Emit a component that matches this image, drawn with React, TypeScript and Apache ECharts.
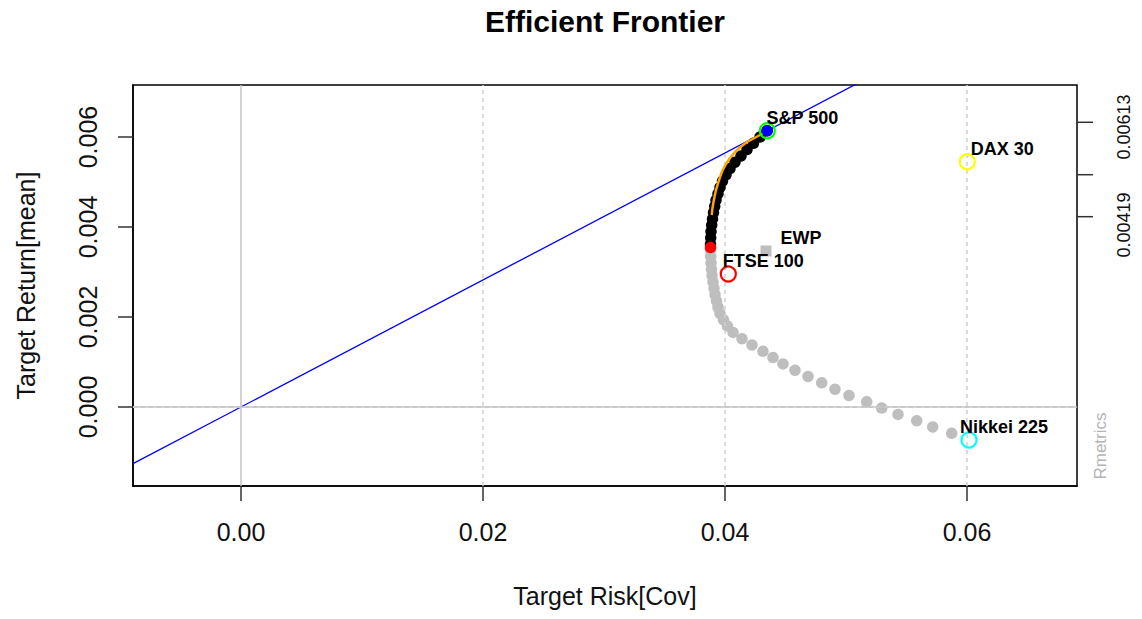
import React, { useEffect, useRef } from "react";
import * as echarts from "echarts";

const FONT = "'Liberation Sans', Arial, Helvetica, sans-serif";

// axis ranges and tick values
const X_MIN = -0.008926;
const X_MAX = 0.069091;
const Y_MIN = -0.0017556;
const Y_MAX = 0.0071556;
const xTicks = [0, 0.02, 0.04, 0.06];
const yTicks = [0, 0.002, 0.004, 0.006];
const xGridLines = [0.02, 0.04, 0.06];
const yGridLines = [0.002, 0.004, 0.006];

// right-hand axis
const rightAxisTicks = [0.006327, 0.005162, 0.004229];
const rightAxisLabelPos = [0.006222, 0.004044];
const rightAxisLabels = ["0.00613", "0.00419"];

// inefficient part of the frontier (grey)
const greyRisk = [
  0.058736, 0.057165, 0.055843, 0.054298, 0.05295, 0.051711, 0.050248, 0.049091,
  0.047992, 0.04686, 0.045785, 0.044793, 0.043967, 0.04314, 0.042231, 0.041405,
  0.040661, 0.040207, 0.039876, 0.039587, 0.039421, 0.039298, 0.039174, 0.039091,
  0.039008, 0.038926, 0.038884, 0.038843, 0.038818, 0.038802,
];
const greyReturn = [
  -0.000584, -0.000444, -0.000304, -0.000164, -0.000024, 0.000116, 0.000256, 0.000396,
  0.000538, 0.000678, 0.000818, 0.000958, 0.001098, 0.001238, 0.001378, 0.001518,
  0.001658, 0.001798, 0.001938, 0.002078, 0.002218, 0.002358, 0.002498, 0.002638,
  0.002778, 0.00292, 0.00306, 0.0032, 0.00334, 0.00348,
];

// efficient part of the frontier (black)
const blackRisk = [
  0.038802, 0.038818, 0.038843, 0.038901, 0.038967, 0.03905, 0.039149, 0.039256,
  0.039421, 0.039587, 0.039793, 0.040083, 0.040413, 0.040826, 0.041322, 0.041818,
  0.042355, 0.042893, 0.043471,
];
const blackReturn = [
  0.00362, 0.00376, 0.0039, 0.00404, 0.00418, 0.00432, 0.00446, 0.0046,
  0.00474, 0.00488, 0.00502, 0.00516, 0.0053, 0.00544, 0.00558, 0.00572,
  0.00586, 0.006, 0.00614,
];

// Sharpe ratio line (orange), visible part, rescaled to the return axis
const sharpeRisk = [
  0.038901, 0.038967, 0.03905, 0.039149, 0.039256, 0.039421, 0.039587, 0.039793,
  0.040083, 0.040413, 0.040826, 0.041322, 0.041818, 0.042355, 0.042893, 0.043471,
];
const sharpeY = [
  0.004267, 0.004422, 0.004556, 0.004689, 0.004822, 0.004967, 0.005111, 0.005256,
  0.0054, 0.005533, 0.005667, 0.005789, 0.005889, 0.005967, 0.006044, 0.00614,
];

// special portfolios
const minVariance = [0.038802, 0.003544];
const tangency = [0.043496, 0.00614];
const equalWeights = [0.043388, 0.003467];

// single assets
const assetNames = ["S&P 500", "DAX 30", "FTSE 100", "Nikkei 225"];
const assetRisk = [0.043496, 0.060025, 0.040273, 0.060165];
const assetReturn = [0.00614, 0.005451, 0.002956, -0.000733];
const assetColors = ["#00ff00", "#ffff00", "#ff0000", "#00ffff"];

const zip = (a: number[], b: number[]) => a.map((v, i) => [v, b[i]]);

export default function App() {
  const ref = useRef<HTMLDivElement>(null);

  useEffect(() => {
    if (!ref.current) return;
    const chart = echarts.init(ref.current, undefined, { renderer: "svg" });
    const slope = tangency[1] / tangency[0];
    const dotted = { color: "#d0d0d0", width: 1.5, type: [4, 4] as any };
    const solid = { color: "#c4c4c4", width: 1.5, type: "solid" as any };
    const labelStyle = {
      show: true,
      formatter: "{b}",
      position: "inside",
      offset: [35, -13],
      fontSize: 18,
      fontWeight: "bold",
      color: "#000",
      fontFamily: FONT,
    };
    const axisLineStyle = { show: true, onZero: false, lineStyle: { color: "#000", width: 1.5 } };
    const rmetrics = {
      id: "rmetrics",
      type: "text",
      x: 1100,
      y: 446,
      rotation: Math.PI / 2,
      silent: true,
      style: {
        text: "Rmetrics",
        fill: "#b4b4b4",
        fontSize: 17,
        fontFamily: FONT,
        align: "center",
        verticalAlign: "middle",
      },
    };

    const option: any = {
      animation: false,
      backgroundColor: "#ffffff",
      title: {
        text: "Efficient Frontier",
        left: 605,
        top: 6,
        padding: 0,
        textAlign: "center",
        textStyle: { fontSize: 30, fontWeight: "bold", color: "#000", fontFamily: FONT },
      },
      grid: {
        left: 133,
        top: 85,
        width: 944,
        height: 401,
        show: true,
        borderColor: "#000",
        borderWidth: 1.5,
        backgroundColor: "transparent",
      },
      xAxis: {
        type: "value",
        min: X_MIN,
        max: X_MAX,
        axisLine: axisLineStyle,
        splitLine: { show: false },
        axisTick: { show: false },
        axisLabel: {
          customValues: xTicks,
          formatter: (v: number) => v.toFixed(2),
          fontSize: 25,
          color: "#111",
          margin: 33,
          fontFamily: FONT,
        },
        name: "Target Risk[Cov]",
        nameLocation: "middle",
        nameGap: 97,
        nameTextStyle: { fontSize: 25, color: "#111", fontFamily: FONT },
      },
      yAxis: {
        type: "value",
        min: Y_MIN,
        max: Y_MAX,
        axisLine: axisLineStyle,
        splitLine: { show: false },
        axisTick: { show: false },
        axisLabel: {
          customValues: yTicks,
          formatter: (v: number) => v.toFixed(3),
          fontSize: 25,
          color: "#111",
          margin: 33,
          rotate: 90,
          fontFamily: FONT,
        },
        name: "Target Return[mean]",
        nameLocation: "middle",
        nameGap: 95,
        nameTextStyle: { fontSize: 25, color: "#111", fontFamily: FONT },
      },
      graphic: [rmetrics],
      series: [
        {
          // grid lines
          type: "line",
          data: [[X_MIN, Y_MIN]],
          showSymbol: false,
          symbol: "none",
          lineStyle: { width: 0 },
          silent: true,
          z: 1,
          markLine: {
            silent: true,
            symbol: ["none", "none"],
            label: { show: false },
            animation: false,
            data: [
              ...xGridLines.map((v) => ({ xAxis: v, lineStyle: dotted })),
              ...yGridLines.map((v) => ({ yAxis: v, lineStyle: dotted })),
              { xAxis: 0, lineStyle: solid },
              { yAxis: 0, lineStyle: solid },
            ],
          },
        },
        {
          // tangency line through the origin
          type: "line",
          data: [
            [X_MIN, X_MIN * slope],
            [X_MAX, X_MAX * slope],
          ],
          showSymbol: false,
          symbol: "none",
          lineStyle: { color: "#0000ff", width: 1.3 },
          silent: true,
          z: 2,
        },
        {
          type: "scatter",
          data: zip(greyRisk, greyReturn),
          symbol: "circle",
          symbolSize: 11.5,
          itemStyle: { color: "#bebebe", opacity: 1 },
          silent: true,
          z: 4,
        },
        {
          type: "scatter",
          data: zip(blackRisk, blackReturn),
          symbol: "circle",
          symbolSize: 11.5,
          itemStyle: { color: "#000000", opacity: 1 },
          silent: true,
          z: 5,
        },
        {
          // Sharpe ratio line
          type: "line",
          data: zip(sharpeRisk, sharpeY),
          showSymbol: false,
          symbol: "none",
          lineStyle: { color: "#ffa500", width: 2.5 },
          silent: true,
          z: 6,
        },
        {
          type: "scatter",
          data: [minVariance],
          symbol: "circle",
          symbolSize: 11.5,
          itemStyle: { color: "#ff0000", opacity: 1 },
          silent: true,
          z: 6,
        },
        {
          type: "scatter",
          data: [{ name: "EWP", value: equalWeights }],
          symbol: "rect",
          symbolSize: 11,
          itemStyle: { color: "#bebebe", opacity: 1 },
          label: labelStyle,
          silent: true,
          z: 6,
        },
        {
          type: "scatter",
          data: [tangency],
          symbol: "circle",
          symbolSize: 11.5,
          itemStyle: { color: "#0000ff", opacity: 1 },
          silent: true,
          z: 7,
        },
        {
          type: "scatter",
          data: assetNames.map((n, i) => ({
            name: n,
            value: [assetRisk[i], assetReturn[i]],
            itemStyle: {
              color: "rgba(0,0,0,0)",
              borderColor: assetColors[i],
              borderWidth: 2.2,
              opacity: 1,
            },
          })),
          symbol: "circle",
          symbolSize: 15,
          label: labelStyle,
          silent: true,
          z: 8,
        },
        {
          // right axis ticks
          type: "custom",
          coordinateSystem: "cartesian2d",
          clip: false,
          silent: true,
          data: rightAxisTicks.map((v) => [X_MAX, v]),
          renderItem: (_p: any, api: any) => {
            const pt = api.coord([api.value(0), api.value(1)]);
            return {
              type: "line",
              shape: { x1: pt[0], y1: pt[1], x2: pt[0] + 16, y2: pt[1] },
              style: { stroke: "#333", lineWidth: 1.5 },
            };
          },
          z: 9,
        },
        {
          // right axis labels
          type: "custom",
          coordinateSystem: "cartesian2d",
          clip: false,
          silent: true,
          data: rightAxisLabelPos.map((v, i) => [X_MAX, v, i]),
          renderItem: (_p: any, api: any) => {
            const pt = api.coord([api.value(0), api.value(1)]);
            const idx = api.value(2);
            return {
              type: "text",
              x: pt[0] + 47,
              y: pt[1],
              rotation: Math.PI / 2,
              style: {
                text: rightAxisLabels[idx],
                fill: "#111",
                fontSize: 18,
                fontFamily: FONT,
                align: "center",
                verticalAlign: "middle",
              },
            };
          },
          z: 9,
        },
      ],
    };

    chart.setOption(option);

    // bottom and left tick marks, positioned through the chart's own scales
    const tickEls: any[] = [];
    xTicks.forEach((v, i) => {
      const p = chart.convertToPixel({ gridIndex: 0 }, [v, Y_MIN]) as number[];
      tickEls.push({
        id: "xt" + i,
        type: "line",
        silent: true,
        z: 100,
        shape: { x1: p[0], y1: p[1], x2: p[0], y2: p[1] + 15 },
        style: { stroke: "#333", lineWidth: 1.5 },
      });
    });
    yTicks.forEach((v, i) => {
      const p = chart.convertToPixel({ gridIndex: 0 }, [X_MIN, v]) as number[];
      tickEls.push({
        id: "yt" + i,
        type: "line",
        silent: true,
        z: 100,
        shape: { x1: p[0], y1: p[1], x2: p[0] - 15, y2: p[1] },
        style: { stroke: "#333", lineWidth: 1.5 },
      });
    });
    chart.setOption({ graphic: [rmetrics, ...tickEls] });

    return () => chart.dispose();
  }, []);

  return (
    <div
      ref={ref}
      style={{ position: "fixed", left: 0, top: 0, width: 1142, height: 619, background: "#fff" }}
    />
  );
}
